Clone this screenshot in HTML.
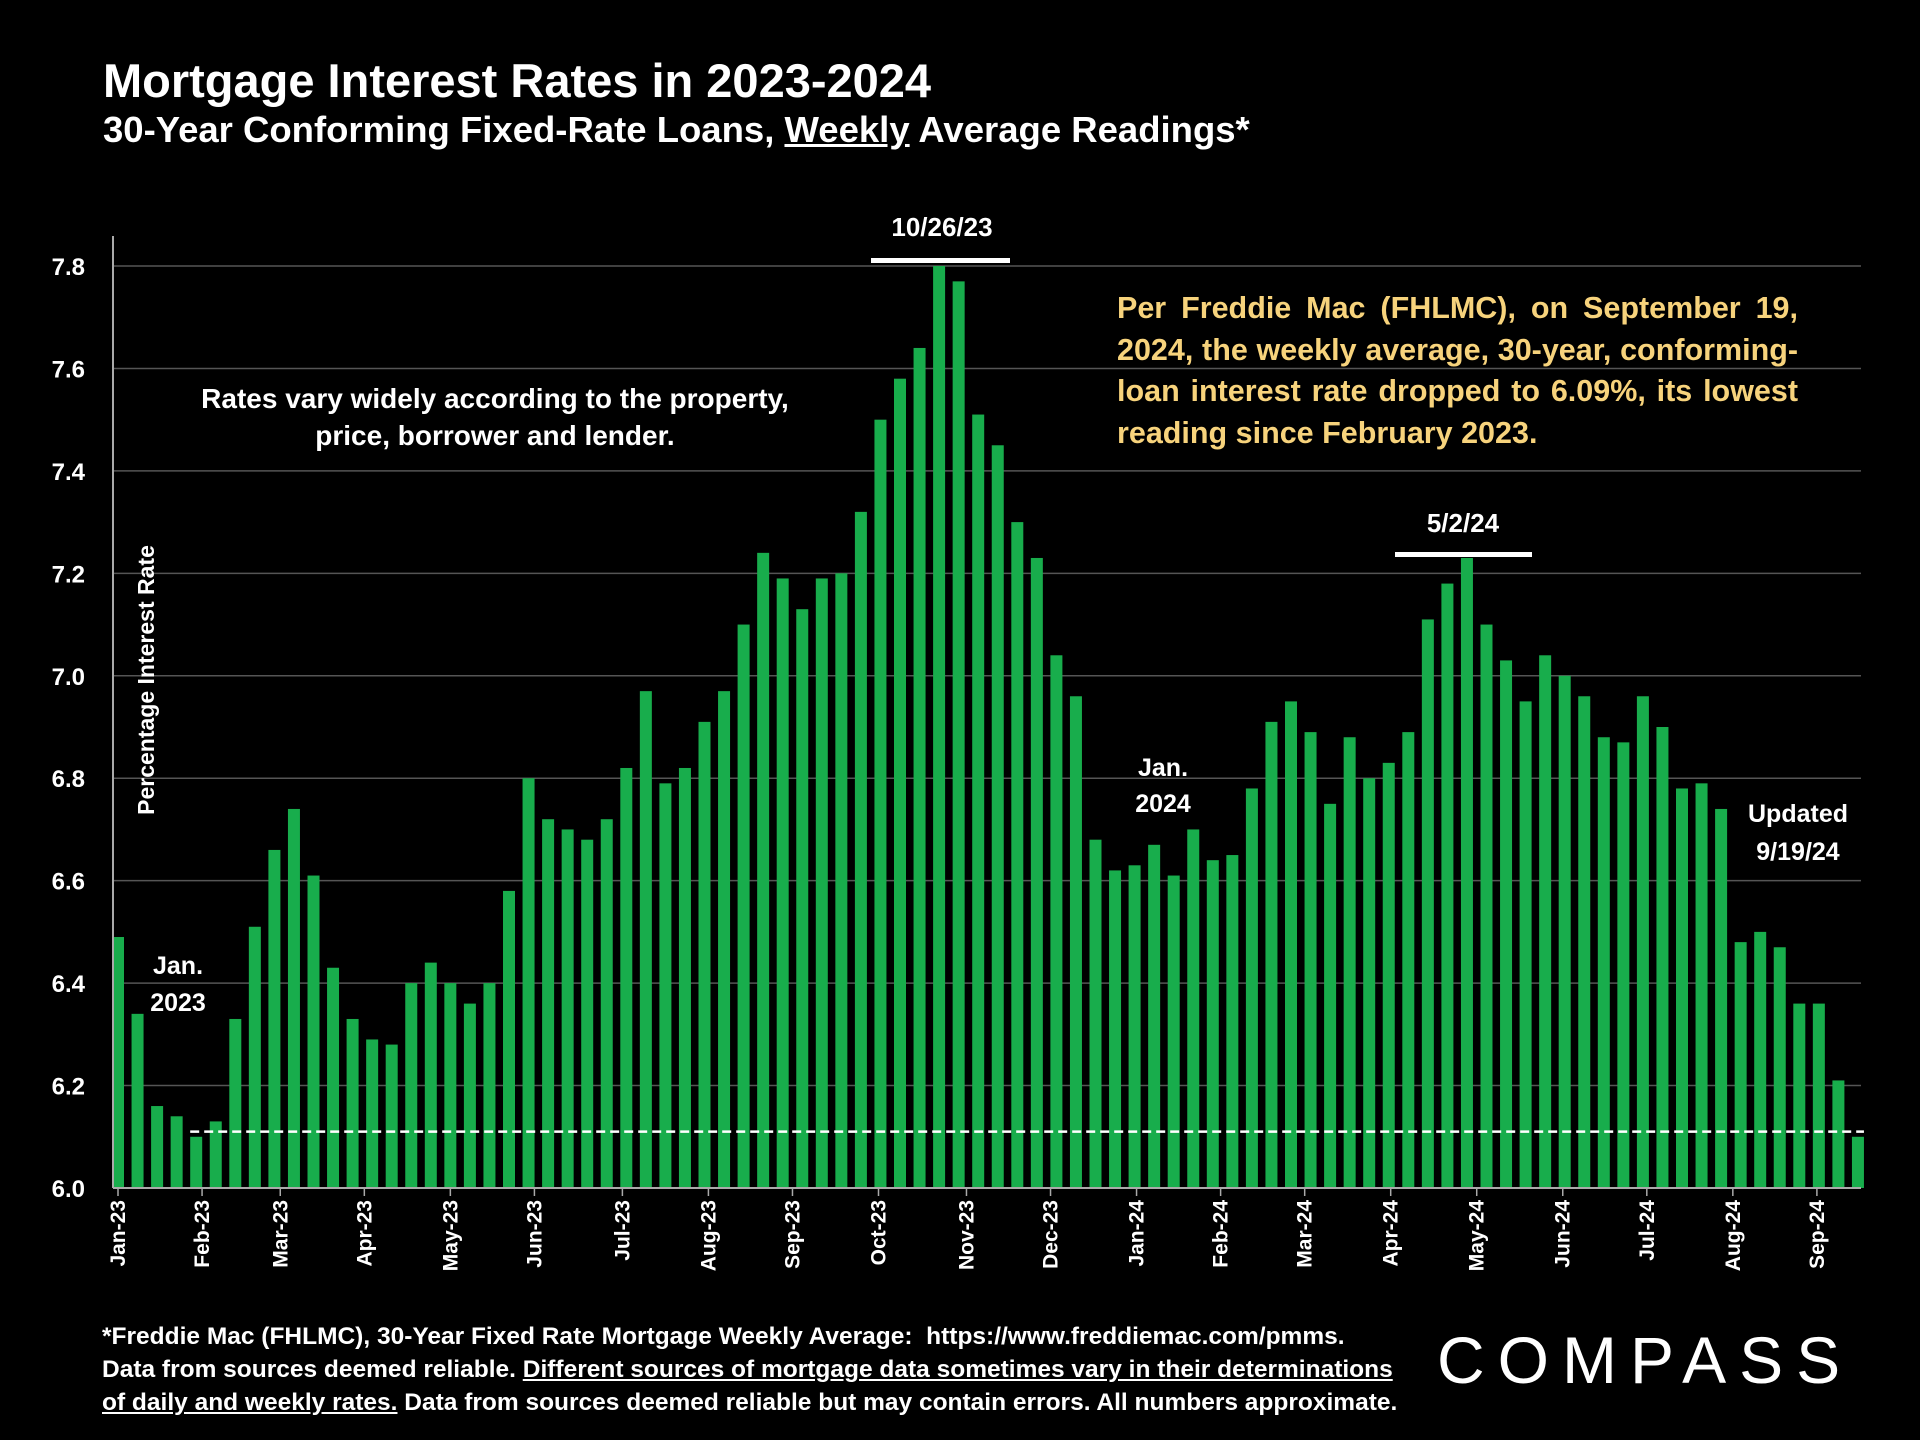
<!DOCTYPE html>
<html><head><meta charset="utf-8">
<style>
html,body{margin:0;padding:0;background:#000;}
body{width:1920px;height:1440px;position:relative;overflow:hidden;font-family:"Liberation Sans",sans-serif;color:#fff;}
.t{position:absolute;font-weight:bold;white-space:nowrap;}
</style></head><body>
<div class="t" style="left:103px;top:53px;font-size:47px;">Mortgage Interest Rates in 2023-2024</div>
<div class="t" style="left:103px;top:109px;font-size:36.5px;">30-Year Conforming Fixed-Rate Loans, <u>Weekly</u> Average Readings*</div>
<svg id="chart" width="1920" height="1440" style="position:absolute;left:0;top:0" xmlns="http://www.w3.org/2000/svg"></svg>
<div class="t" style="left:495px;top:380px;transform:translateX(-50%);font-size:28px;text-align:center;line-height:37px;">Rates vary widely according to the property,<br>price, borrower and lender.</div>
<div class="t" style="left:1117px;top:288px;width:681px;white-space:normal;font-size:30.5px;line-height:41.5px;text-align:justify;text-align-last:left;color:#f7d37c;">Per Freddie Mac (FHLMC), on September 19, 2024, the weekly average, 30-year, conforming-loan interest rate dropped to 6.09%, its lowest reading since February 2023.</div>
<div class="t" style="left:102px;top:1320px;font-size:24.5px;line-height:33px;">*Freddie Mac (FHLMC), 30-Year Fixed Rate Mortgage Weekly Average:&nbsp; https://www.freddiemac.com/pmms.<br>Data from sources deemed reliable. <u>Different sources of mortgage data sometimes vary in their determinations</u><br><u>of daily and weekly rates.</u> Data from sources deemed reliable but may contain errors. All numbers approximate.</div>
<div class="t" style="left:1437px;top:1322px;font-size:66px;font-weight:normal;letter-spacing:13px;">COMPASS</div>
<script>
const rates=[6.49,6.34,6.16,6.14,6.10,6.13,6.33,6.51,6.66,6.74,6.61,6.43,6.33,6.29,6.28,6.40,6.44,6.40,6.36,6.40,6.58,6.80,6.72,6.70,6.68,6.72,6.82,6.97,6.79,6.82,6.91,6.97,7.10,7.24,7.19,7.13,7.19,7.20,7.32,7.50,7.58,7.64,7.80,7.77,7.51,7.45,7.30,7.23,7.04,6.96,6.68,6.62,6.63,6.67,6.61,6.70,6.64,6.65,6.78,6.91,6.95,6.89,6.75,6.88,6.80,6.83,6.89,7.11,7.18,7.23,7.10,7.03,6.95,7.04,7.00,6.96,6.88,6.87,6.96,6.90,6.78,6.79,6.74,6.48,6.50,6.47,6.36,6.36,6.21,6.10];
const monthLabels=["Jan-23","Feb-23","Mar-23","Apr-23","May-23","Jun-23","Jul-23","Aug-23","Sep-23","Oct-23","Nov-23","Dec-23","Jan-24","Feb-24","Mar-24","Apr-24","May-24","Jun-24","Jul-24","Aug-24","Sep-24"];
const monthIdx=[0,4.3,8.3,12.6,17.0,21.3,25.8,30.2,34.5,38.9,43.4,47.7,52.1,56.4,60.7,65.1,69.5,73.9,78.2,82.6,86.9];
const yTicks=[6.0,6.2,6.4,6.6,6.8,7.0,7.2,7.4,7.6,7.8];
const lowRate=6.11;
const svg=document.getElementById('chart');
const NS='http://www.w3.org/2000/svg';
const yMin=6.0,yMax=7.8,yBot=1188,yTop=266;
const y=v=>yBot-(v-yMin)/(yMax-yMin)*(yBot-yTop);
const x=i=>118+i*19.55;
function mk(t,a){const e=document.createElementNS(NS,t);for(const k in a)e.setAttribute(k,a[k]);svg.appendChild(e);return e;}
yTicks.forEach(v=>{
 if(v>yMin){const g=mk('line',{x1:113,x2:1861,y1:y(v),y2:y(v),stroke:'#555','stroke-width':1.5});
 
 }
 const t=mk('text',{x:85,y:y(v)+9,'text-anchor':'end','font-size':24,'font-weight':'bold',fill:'#fff','font-family':'Liberation Sans'});
 t.textContent=v.toFixed(1);
 
 
});
rates.forEach((v,i)=>{
 const r=mk('rect',{x:x(i)-6,y:y(v),width:12,height:yBot-y(v),fill:'#18ad4c'});
 
 
});
const ax=mk('line',{x1:113,x2:1861,y1:yBot,y2:yBot,stroke:'#aaa','stroke-width':2});


const yax=mk('line',{x1:113,x2:113,y1:yTop-30,y2:yBot,stroke:'#aaa','stroke-width':2});


monthLabels.forEach((m,k)=>{
 const px=x(monthIdx[k]);
 const tk=mk('line',{x1:px,x2:px,y1:yBot,y2:yBot+8,stroke:'#aaa','stroke-width':1.5});
 
 
 const t=mk('text',{x:0,y:0,'text-anchor':'end','font-size':21,'font-weight':'bold',fill:'#fff','font-family':'Liberation Sans',transform:`translate(${px+7},${yBot+12}) rotate(-90)`});
 t.textContent=m;
 
 
});
const dl=mk('line',{x1:x(4)-6,x2:x(rates.length-1)+6,y1:y(lowRate),y2:y(lowRate),stroke:'#fff','stroke-width':2.5,'stroke-dasharray':'9,5'});


function lbl(txt,cx,cy,fs,name){const t=mk('text',{x:cx,y:cy,'text-anchor':'middle','font-size':fs,'font-weight':'bold',fill:'#fff','font-family':'Liberation Sans'});t.textContent=txt;
 
 }
lbl('10/26/23',942,236,26,'peak-label-2023');
const b1=mk('rect',{x:871,y:258,width:139,height:5,fill:'#fff'});


lbl('5/2/24',1463,532,26,'peak-label-2024');
const b2=mk('rect',{x:1395,y:552,width:137,height:5,fill:'#fff'});


lbl('Jan.',178,974,25,'jan-2023-label');lbl('2023',178,1011,25,'jan-2023-label');
lbl('Jan.',1163,776,25,'jan-2024-label');lbl('2024',1163,812,25,'jan-2024-label');
lbl('Updated',1798,822,25,'updated-label');lbl('9/19/24',1798,860,25,'updated-label');
const yt=mk('text',{x:0,y:0,'text-anchor':'middle','font-size':23,'font-weight':'bold',fill:'#fff','font-family':'Liberation Sans',transform:'translate(154,680) rotate(-90)'});
yt.textContent='Percentage Interest  Rate';


</script>
</body></html>
